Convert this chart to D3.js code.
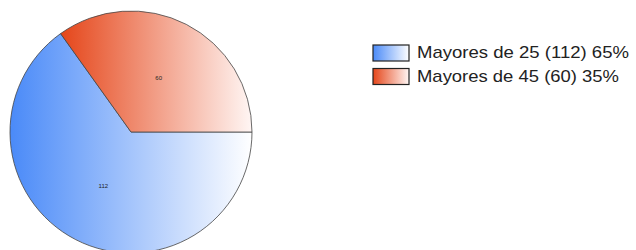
<!DOCTYPE html>
<html>
<head>
<meta charset="utf-8">
<script src="https://cdn.jsdelivr.net/npm/d3@7"></script>
<style>
  body { margin: 0; background: #fff; }
  svg { display: block; }
</style>
</head>
<body>
<svg id="chart" width="636" height="250"></svg>
<script>
var categories = ['Mayores de 25', 'Mayores de 45'];
var values = [112, 60];
var percents = ['65%', '35%'];
var colorsDark = ['#4a8af8', '#e5461a'];
var colorsLight = ['#ffffff', '#fff6f4'];

var svg = d3.select('#chart');
var cx = 131, cy = 132, radius = 121;

var defs = svg.append('defs');
categories.forEach(function(c, i) {
    var g = defs.append('linearGradient')
        .attr('id', 'grad' + i)
        .attr('x1', 0).attr('y1', 0).attr('x2', 1).attr('y2', 0);
    g.append('stop').attr('offset', '0%').attr('stop-color', colorsDark[i]);
    g.append('stop').attr('offset', '100%').attr('stop-color', colorsLight[i]);
});

var pie = d3.pie()
    .sort(null)
    .startAngle(Math.PI / 2)
    .endAngle(Math.PI / 2 + 2 * Math.PI);

var arc = d3.arc().innerRadius(0).outerRadius(radius);
var labelArc = d3.arc().innerRadius(radius / 2).outerRadius(radius / 2);

var gPie = svg.append('g')
    .attr('transform', 'translate(' + cx + ',' + cy + ')');

var arcs = pie(values);

gPie.selectAll('path')
    .data(arcs)
    .enter().append('path')
    .attr('d', arc)
    .attr('fill', function(d, i) { return 'url(#grad' + i + ')'; })
    .attr('stroke', '#444')
    .attr('stroke-width', 0.8);

gPie.selectAll('text')
    .data(arcs)
    .enter().append('text')
    .attr('transform', function(d) { return 'translate(' + labelArc.centroid(d) + ')'; })
    .attr('text-anchor', 'middle')
    .attr('dy', '0.35em')
    .style('font-family', 'Liberation Sans, Arial, sans-serif')
    .style('font-size', '6px')
    .attr('fill', '#222')
    .text(function(d) { return d.data; });

// legend
var legend = svg.append('g').attr('transform', 'translate(373,45)');
var rows = legend.selectAll('g')
    .data(categories)
    .enter().append('g')
    .attr('transform', function(d, i) { return 'translate(0,' + (i * 23.5) + ')'; });

rows.append('rect')
    .attr('width', 36)
    .attr('height', 16)
    .attr('fill', function(d, i) { return 'url(#grad' + i + ')'; })
    .attr('stroke', '#222')
    .attr('stroke-width', 1.2);

rows.append('text')
    .attr('x', 44)
    .attr('y', 13)
    .style('font-family', 'Liberation Sans, Arial, sans-serif')
    .style('font-size', '17px')
    .attr('fill', '#222')
    .attr('textLength', function(d, i) { return i === 0 ? 212 : 202; })
    .attr('lengthAdjust', 'spacingAndGlyphs')
    .text(function(d, i) { return d + ' (' + values[i] + ') ' + percents[i]; });
</script>
</body>
</html>
